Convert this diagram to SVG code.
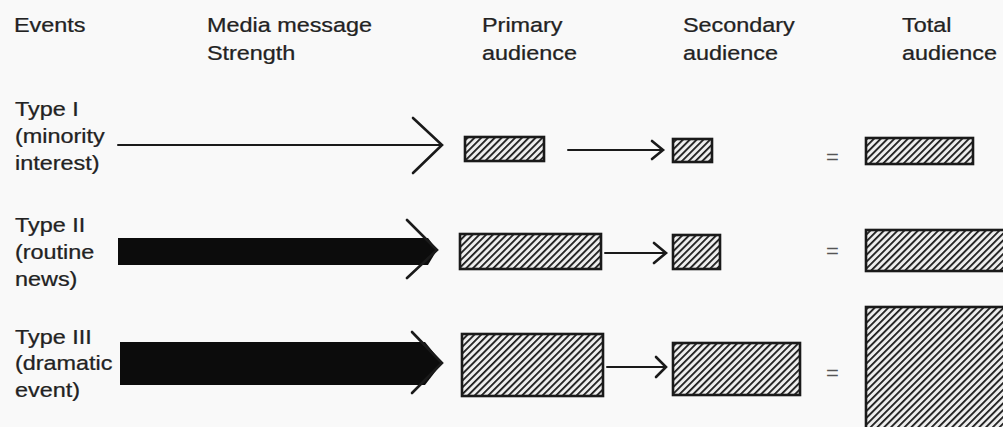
<svg xmlns="http://www.w3.org/2000/svg" width="1003" height="427" viewBox="0 0 1003 427">
<style>
.t{font-family:"Liberation Sans",Arial,sans-serif;font-size:19.5px;fill:#222;stroke:#222;stroke-width:0.25}
.eq{font-family:"Liberation Sans",Arial,sans-serif;font-size:20px;fill:#555}
.box{fill:url(#hatch);stroke:#1a1a1a;stroke-width:2.6}
.ln{fill:none;stroke:#1a1a1a;stroke-width:2;stroke-linecap:round;stroke-linejoin:miter}
.head{fill:none;stroke:#1a1a1a;stroke-width:2.6;stroke-linecap:round}
.body{fill:#0c0c0c;stroke:none}
</style>
<defs>
<pattern id="hatch" patternUnits="userSpaceOnUse" width="4.8" height="4.8" patternTransform="rotate(45)">
<rect width="4.8" height="4.8" fill="#eeeeee"/>
<line x1="0.9" y1="0" x2="0.9" y2="4.8" stroke="#1a1a1a" stroke-width="1.8"/>
</pattern>
</defs>
<rect width="1003" height="427" fill="#f9f9f9"/>
<g id="headers">
<text class="t" transform="matrix(1.2 0 0 1 14 32)">Events</text>
<text class="t" transform="matrix(1.2 0 0 1 207 32)">Media message</text>
<text class="t" transform="matrix(1.2 0 0 1 207 60)">Strength</text>
<text class="t" transform="matrix(1.2 0 0 1 482 32)">Primary</text>
<text class="t" transform="matrix(1.2 0 0 1 482 60)">audience</text>
<text class="t" transform="matrix(1.2 0 0 1 683 32)">Secondary</text>
<text class="t" transform="matrix(1.2 0 0 1 683 60)">audience</text>
<text class="t" transform="matrix(1.2 0 0 1 902 32)">Total</text>
<text class="t" transform="matrix(1.2 0 0 1 902 60)">audience</text>
</g>
<g id="type1">
<text class="t" transform="matrix(1.2 0 0 1 15 116)">Type I</text>
<text class="t" transform="matrix(1.2 0 0 1 15 143)">(minority</text>
<text class="t" transform="matrix(1.2 0 0 1 15 170)">interest)</text>
</g>
<g id="type2">
<text class="t" transform="matrix(1.2 0 0 1 15 232)">Type II</text>
<text class="t" transform="matrix(1.2 0 0 1 15 259)">(routine</text>
<text class="t" transform="matrix(1.2 0 0 1 15 286)">news)</text>
</g>
<g id="type3">
<text class="t" transform="matrix(1.2 0 0 1 15 344)">Type III</text>
<text class="t" transform="matrix(1.2 0 0 1 15 370)">(dramatic</text>
<text class="t" transform="matrix(1.2 0 0 1 15 397)">event)</text>
</g>
<g id="primary1"><rect class="box" x="465" y="137" width="79" height="24"/></g>
<g id="secondary1"><rect class="box" x="673" y="139" width="39" height="23"/></g>
<g id="total1"><rect class="box" x="866" y="138" width="107" height="26"/></g>
<g id="primary2"><rect class="box" x="460" y="234" width="141" height="35"/></g>
<g id="secondary2"><rect class="box" x="673" y="235" width="47" height="34"/></g>
<g id="total2"><rect class="box" x="866" y="230" width="150" height="41"/></g>
<g id="primary3"><rect class="box" x="462" y="334" width="141" height="62"/></g>
<g id="secondary3"><rect class="box" x="673" y="343" width="127" height="52"/></g>
<g id="total3"><rect class="box" x="866" y="307" width="150" height="130"/></g>
<g id="equals">
<text class="eq" transform="matrix(1.1 0 0 1 826 164)">=</text>
<text class="eq" transform="matrix(1.1 0 0 1 826 258)">=</text>
<text class="eq" transform="matrix(1.1 0 0 1 826 380)">=</text>
</g>
<g id="connectors">
<line class="ln" x1="118" y1="145" x2="441" y2="145"/>
<polyline class="head" points="413,118 442,145 413,173"/>
<polygon class="body" points="118,238 428,238 437,250 428,265 118,265"/>
<polyline class="head" points="407,220 437,250 407,278"/>
<polygon class="body" points="120,342 425,342 442,363 425,385 120,385"/>
<polyline class="head" points="412,332 442,363 412,393"/>
<line class="ln" x1="568" y1="150" x2="662" y2="150"/>
<polyline class="head" points="652,141 663,150 652,159"/>
<line class="ln" x1="605" y1="253" x2="665" y2="253"/>
<polyline class="head" points="654,243 666,253 654,263"/>
<line class="ln" x1="607" y1="367" x2="665" y2="367"/>
<polyline class="head" points="656,357 666,367 656,377"/>
</g>
</svg>
